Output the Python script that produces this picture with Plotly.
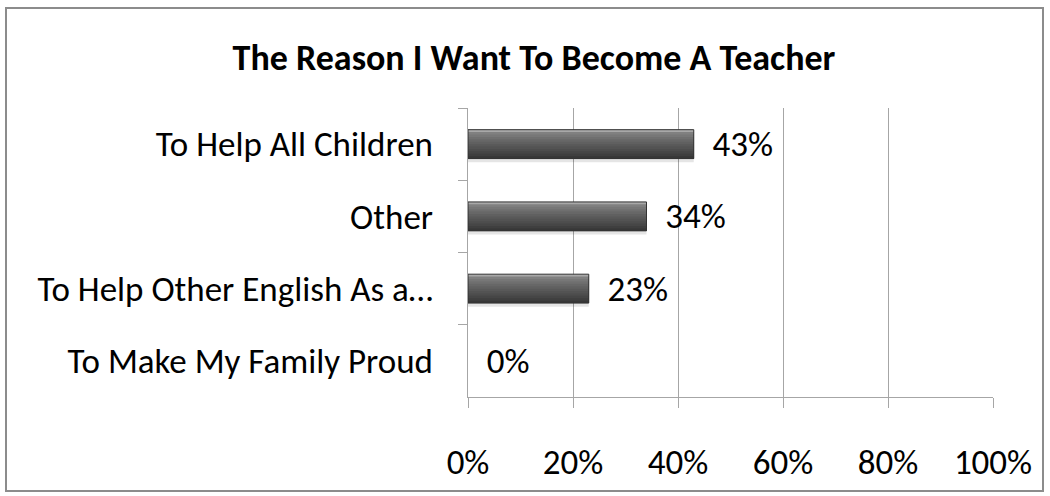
import plotly.graph_objects as go

categories = ["To Help All Children", "Other", "To Help Other English As a…", "To Make My Family Proud"]
values = [43, 34, 23, 0]
value_labels = ["43%", "34%", "23%", "0%"]
x_ticks = [0, 20, 40, 60, 80, 100]
x_tick_labels = ["0%", "20%", "40%", "60%", "80%", "100%"]
title_text = "The Reason I Want To Become A Teacher"

W, H = 1050, 496
L, R, T, B = 468, 57, 108, 99
FONT = "Carlito, Lato, sans-serif"
FS = 35

fig = go.Figure()
# soft shadow
fig.add_trace(go.Bar(
    y=categories, x=values, orientation="h", width=0.43, offset=-0.18,
    marker=dict(color="rgba(0,0,0,0.10)", line=dict(width=0)),
    hoverinfo="skip", showlegend=False,
))
# vertical gradient built from stacked-over bands (style only)
band_colors = ["#a8a8a8", "#808080", "#777777", "#6f6f6f", "#676767", "#606060",
               "#595959", "#535353", "#4d4d4d", "#464646", "#3f3f3f", "#373737"]
n = len(band_colors)
bw = 0.4 / n
for i, c in enumerate(band_colors):
    fig.add_trace(go.Bar(
        y=categories, x=values, orientation="h", width=0.4 - i * bw, offset=-0.2 + i * bw,
        marker=dict(color=c, line=dict(width=0)),
        hoverinfo="skip", showlegend=False,
    ))
# outline + labels
fig.add_trace(go.Bar(
    y=categories, x=values, orientation="h", width=0.4, offset=-0.2,
    marker=dict(color="rgba(0,0,0,0)",
                line=dict(color="#333333", width=[1 if v > 0 else 0 for v in values])),
    text=["  " + t for t in value_labels], textposition="outside",
    constraintext="none",
    textfont=dict(family=FONT, size=FS, color="#000000"),
    cliponaxis=False, showlegend=False,
))

pw = W - L - R
ph = H - T - B
fig.add_shape(type="rect", xref="paper", yref="paper",
              x0=(6 - L) / pw, x1=(1043 - L) / pw,
              y0=(H - B - 491) / ph, y1=(H - B - 8) / ph,
              line=dict(color="#8c8c8c", width=2), fillcolor="rgba(0,0,0,0)", layer="below")

fig.update_layout(
    width=W, height=H,
    margin=dict(l=L, r=R, t=T, b=B),
    paper_bgcolor="white", plot_bgcolor="white",
    barmode="overlay",
    title=dict(text="<b>" + title_text + "</b>", x=534 / W, xanchor="center",
               y=1 - 57 / H, yanchor="middle",
               font=dict(family=FONT, size=36, color="#000000")),
    xaxis=dict(range=[0, 100], tickvals=x_ticks, ticktext=x_tick_labels,
               showgrid=True, gridcolor="#a6a6a6", gridwidth=1,
               showline=True, linecolor="#a6a6a6", linewidth=1,
               ticks="outside", ticklen=10, tickcolor="#a6a6a6",
               ticklabelstandoff=24, zeroline=False, mirror=False,
               tickfont=dict(family=FONT, size=FS, color="#000000")),
    yaxis=dict(categoryorder="array", categoryarray=categories, autorange="reversed",
               showline=True, linecolor="#a6a6a6", linewidth=1,
               ticks="outside", ticklen=9, tickcolor="#a6a6a6", tickson="boundaries",
               ticklabelstandoff=27, showgrid=False,
               tickfont=dict(family=FONT, size=FS, color="#000000")),
)

fig.write_html("out.html", config={"displayModeBar": False},
               post_script="document.body.style.margin='0';")
